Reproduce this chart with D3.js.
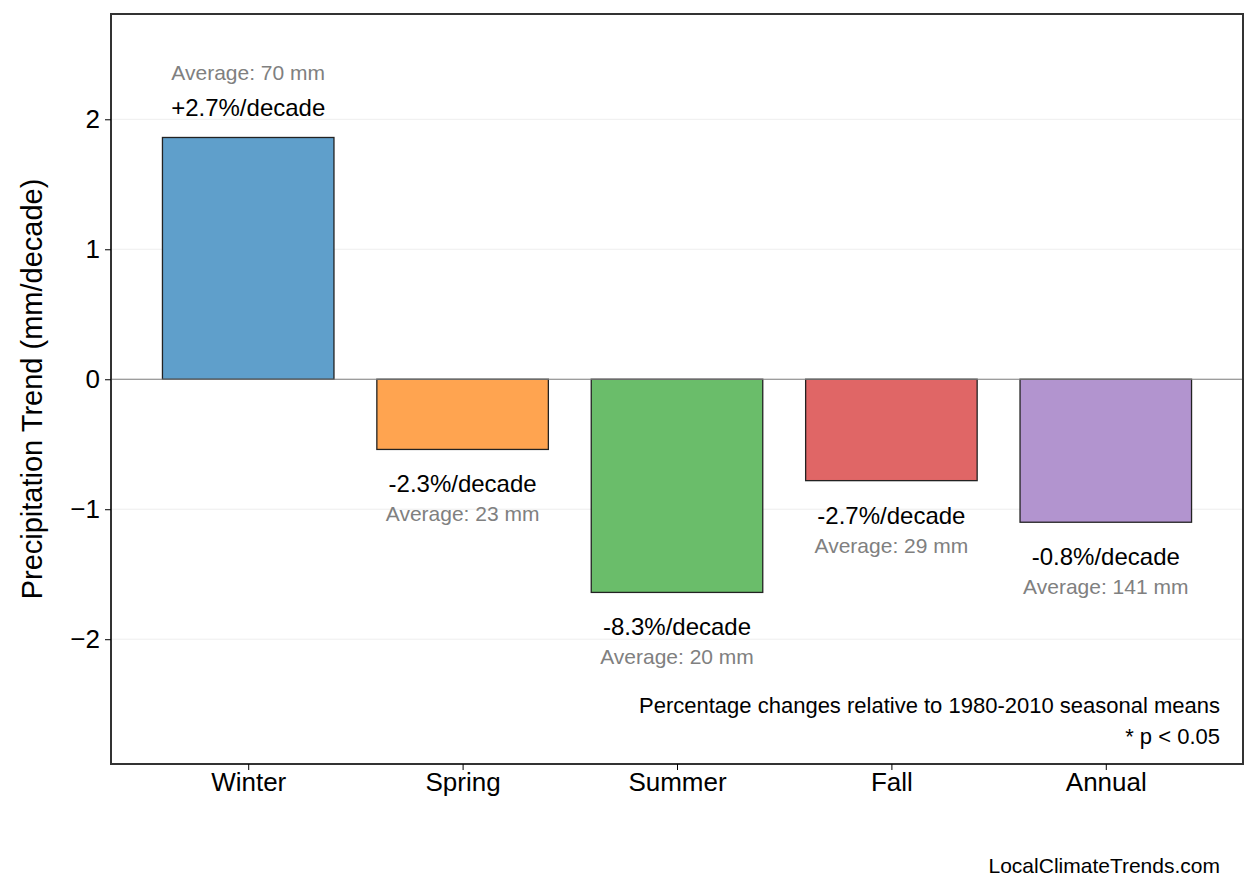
<!DOCTYPE html>
<html><head><meta charset="utf-8">
<script src="https://cdn.jsdelivr.net/npm/d3@7"></script>
<style>body{margin:0;background:#fff}text{font-family:"Liberation Sans",Arial,sans-serif}</style>
</head><body><svg id="c" width="1258" height="893"></svg>
<script>
const categories=["Winter","Spring","Summer","Fall","Annual"];
const trends=[1.86,-0.54,-1.64,-0.78,-1.10];
const pctLabels=["+2.7%/decade","-2.3%/decade","-8.3%/decade","-2.7%/decade","-0.8%/decade"];
const avgLabels=["Average: 70 mm","Average: 23 mm","Average: 20 mm","Average: 29 mm","Average: 141 mm"];
const colors=["#5f9fcb","#ffa450","#6abd6a","#e06666","#b294cf"];
const yTicks=[-2,-1,0,1,2];

const svg=d3.select("#c");
const L=111,R=1243,T=14,B=764;
const x=d3.scaleLinear().domain([-0.64,4.64]).range([L,R]);
const y=d3.scaleLinear().domain([-2.96,2.81]).range([B,T]);
const bw=x(0.8)-x(0);

svg.append("g").selectAll("line").data(yTicks).join("line")
 .attr("x1",L).attr("x2",R).attr("y1",d=>y(d)).attr("y2",d=>y(d))
 .attr("stroke","#eee").attr("stroke-width",1);

categories.forEach((c,i)=>{
  const v=trends[i];
  svg.append("rect").attr("x",x(i)-bw/2).attr("width",bw)
   .attr("y",y(Math.max(0,v))).attr("height",Math.abs(y(v)-y(0)))
   .attr("fill",colors[i]).attr("stroke","#222").attr("stroke-width",1.3);
  if(v>=0){
    svg.append("text").attr("x",x(i)).attr("y",y(v)-21).attr("text-anchor","middle").attr("font-size",24).text(pctLabels[i]);
    svg.append("text").attr("x",x(i)).attr("y",y(v)-57).attr("text-anchor","middle").attr("font-size",21).attr("fill","#808080").text(avgLabels[i]);
  } else {
    svg.append("text").attr("x",x(i)).attr("y",y(v)+43).attr("text-anchor","middle").attr("font-size",24).text(pctLabels[i]);
    svg.append("text").attr("x",x(i)).attr("y",y(v)+72).attr("text-anchor","middle").attr("font-size",21).attr("fill","#808080").text(avgLabels[i]);
  }
});
svg.append("line").attr("x1",L).attr("x2",R).attr("y1",y(0)).attr("y2",y(0)).attr("stroke","#808080").attr("stroke-width",1.2);
svg.append("rect").attr("x",L).attr("y",T).attr("width",R-L).attr("height",B-T).attr("fill","none").attr("stroke","#333").attr("stroke-width",2);

const ya=svg.append("g").attr("transform",`translate(${L},0)`).call(d3.axisLeft(y).tickValues(yTicks).tickSize(6).tickFormat(d=>d<0?"\u2212"+Math.abs(d):d));
ya.select(".domain").remove();
ya.selectAll("text").attr("font-size",26).attr("fill","#000").attr("dx",-2).style("font-family","Liberation Sans, Arial");
const xa=svg.append("g").attr("transform",`translate(0,${B})`).call(d3.axisBottom(x).tickValues(d3.range(categories.length)).tickSize(6).tickFormat(i=>categories[i]));
xa.select(".domain").remove();
xa.selectAll("text").attr("font-size",26).attr("fill","#000").attr("dy",18).style("font-family","Liberation Sans, Arial");

svg.append("text").attr("transform",`translate(42,${(T+B)/2}) rotate(-90)`).attr("text-anchor","middle").attr("font-size",29).text("Precipitation Trend (mm/decade)");
svg.append("text").attr("x",1220).attr("y",713).attr("text-anchor","end").attr("font-size",22).text("Percentage changes relative to 1980-2010 seasonal means");
svg.append("text").attr("x",1220).attr("y",744).attr("text-anchor","end").attr("font-size",22).text("* p < 0.05");
svg.append("text").attr("x",1220).attr("y",873).attr("text-anchor","end").attr("font-size",21).text("LocalClimateTrends.com");
</script></body></html>
